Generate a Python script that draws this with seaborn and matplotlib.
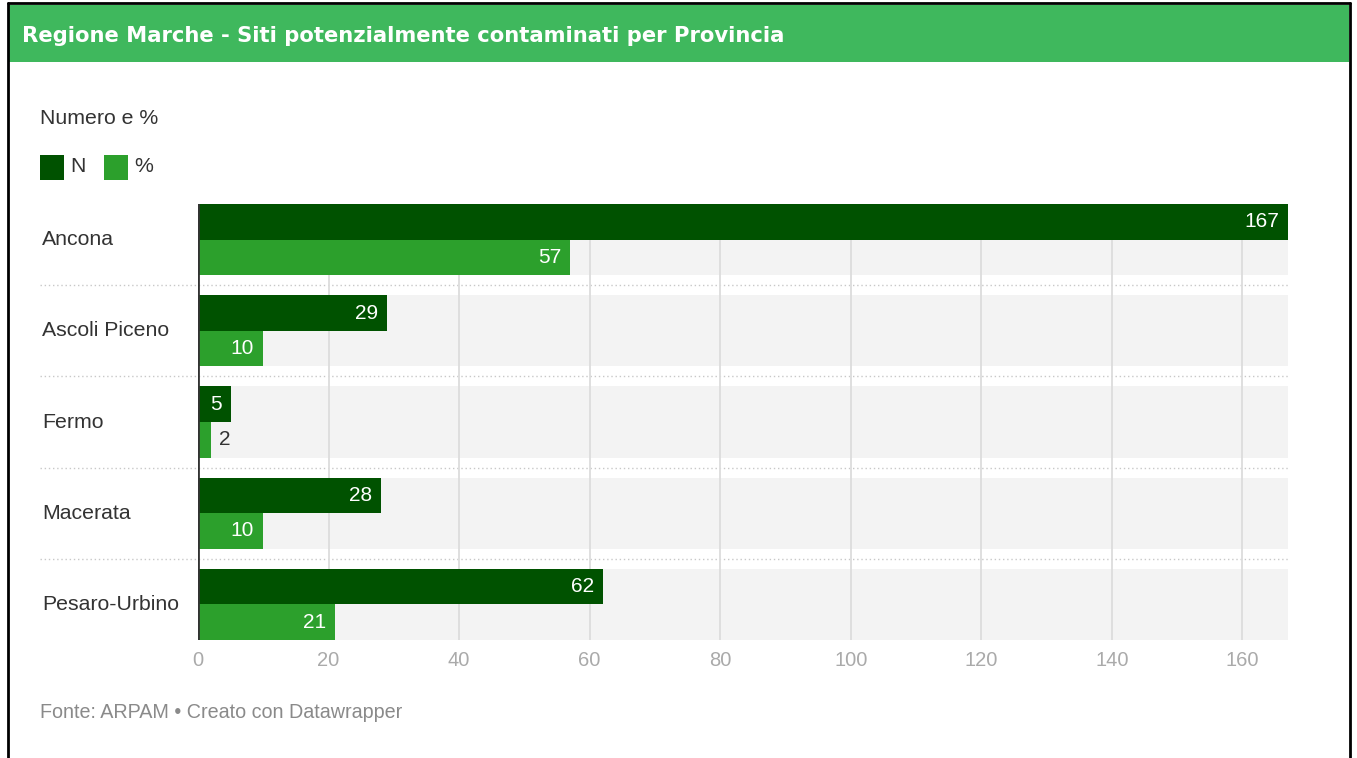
import pandas as pd
import seaborn as sns
import matplotlib.pyplot as plt
from matplotlib.patches import Rectangle
from matplotlib.lines import Line2D
import matplotlib.transforms as mtransforms

provinces = ["Ancona", "Ascoli Piceno", "Fermo", "Macerata", "Pesaro-Urbino"]
n_values = [167, 29, 5, 28, 62]
pct_values = [57, 10, 2, 10, 21]
series_names = ["N", "%"]
x_ticks = [0, 20, 40, 60, 80, 100, 120, 140, 160]

title = "Regione Marche - Siti potenzialmente contaminati per Provincia"
subtitle = "Numero e %"
footer = "Fonte: ARPAM • Creato con Datawrapper"

colors = {"N": "#005200", "%": "#2ca02c"}

df = pd.DataFrame({
    "provincia": provinces * 2,
    "valore": n_values + pct_values,
    "serie": ["N"] * len(provinces) + ["%"] * len(provinces),
})

sns.set_theme(style="white")
plt.rcParams["font.family"] = ["Liberation Sans", "DejaVu Sans"]

W, H = 1357, 758
fig = plt.figure(figsize=(W / 100, H / 100), dpi=100)


def fx(px):
    return px / W


def fy(py):
    return 1 - py / H


# frame + header
fig.add_artist(Rectangle((fx(9), fy(62)), fx(1349) - fx(9), fy(5) - fy(62),
                         transform=fig.transFigure, color="#3fb85d", lw=0))
for xs, ys in [([8, 8], [3, 758]), ([1350, 1350], [3, 758]), ([8, 1350], [3, 3])]:
    fig.add_artist(Line2D([fx(x) for x in xs], [fy(y) for y in ys],
                          transform=fig.transFigure, color="black", lw=2))
fig.text(fx(22), fy(36), title, color="white", fontsize=15.2, fontweight="bold",
         family="DejaVu Sans", va="center", ha="left")

fig.text(fx(40), fy(118), subtitle, color="#333333", fontsize=15.3, va="center")
for i, name in enumerate(series_names):
    x0 = 40 + i * 64
    fig.add_artist(Rectangle((fx(x0), fy(180)), fx(24), fy(155) - fy(180),
                             transform=fig.transFigure, color=colors[name], lw=0))
    fig.text(fx(x0 + 30), fy(167), name, color="#333333", fontsize=15.3, va="center")

fig.text(fx(40), fy(712), footer, color="#8a8a8a", fontsize=14.2, va="center")

ax = fig.add_axes([fx(198), fy(640), fx(1288) - fx(198), fy(204) - fy(640)])

band = 0.39
for i in range(len(provinces)):
    ax.axhspan(i - band, i + band, color="#f3f3f3", lw=0, zorder=0)
    if i > 0:
        ax.axhline(i - 0.5, xmin=(40 - 198) / 1090, xmax=1, color="#c8c8c8",
                   lw=1, ls=(0, (1, 2)), clip_on=False, zorder=1)
for t in x_ticks[1:]:
    ax.axvline(t, color="#dcdcdc", lw=1.3, zorder=1)

sns.barplot(data=df, y="provincia", x="valore", hue="serie", orient="h",
            palette=colors, hue_order=series_names, width=band * 2,
            saturation=1, legend=False, linewidth=0, ax=ax, zorder=2)

ax.axvline(0, color="#333333", lw=2, zorder=3)

ax.set_xlim(0, 167)
ax.set_ylim(len(provinces) - 1 + band, -band)
for s in ax.spines.values():
    s.set_visible(False)
ax.set_xlabel("")
ax.set_ylabel("")
ax.set_xticks(x_ticks)
ax.tick_params(axis="x", length=0, pad=8, labelsize=14.5, labelcolor="#aaaaaa")
ax.set_yticks([])

trans = mtransforms.blended_transform_factory(fig.transFigure, ax.transData)
for i, p in enumerate(provinces):
    ax.text(fx(42), i, p, transform=trans, ha="left", va="center",
            fontsize=15.3, color="#333333")

for container, vals in zip(ax.containers, [n_values, pct_values]):
    for patch, v in zip(container.patches, vals):
        yc = patch.get_y() + patch.get_height() / 2
        if v >= 4:
            ax.annotate(str(v), (v, yc), xytext=(-6.5, 0), textcoords="offset points",
                        ha="right", va="center", color="white", fontsize=15, zorder=4)
        else:
            ax.annotate(str(v), (v, yc), xytext=(6, 0), textcoords="offset points",
                        ha="left", va="center", color="#333333", fontsize=15, zorder=4)

fig.savefig("out.png", dpi=100)
